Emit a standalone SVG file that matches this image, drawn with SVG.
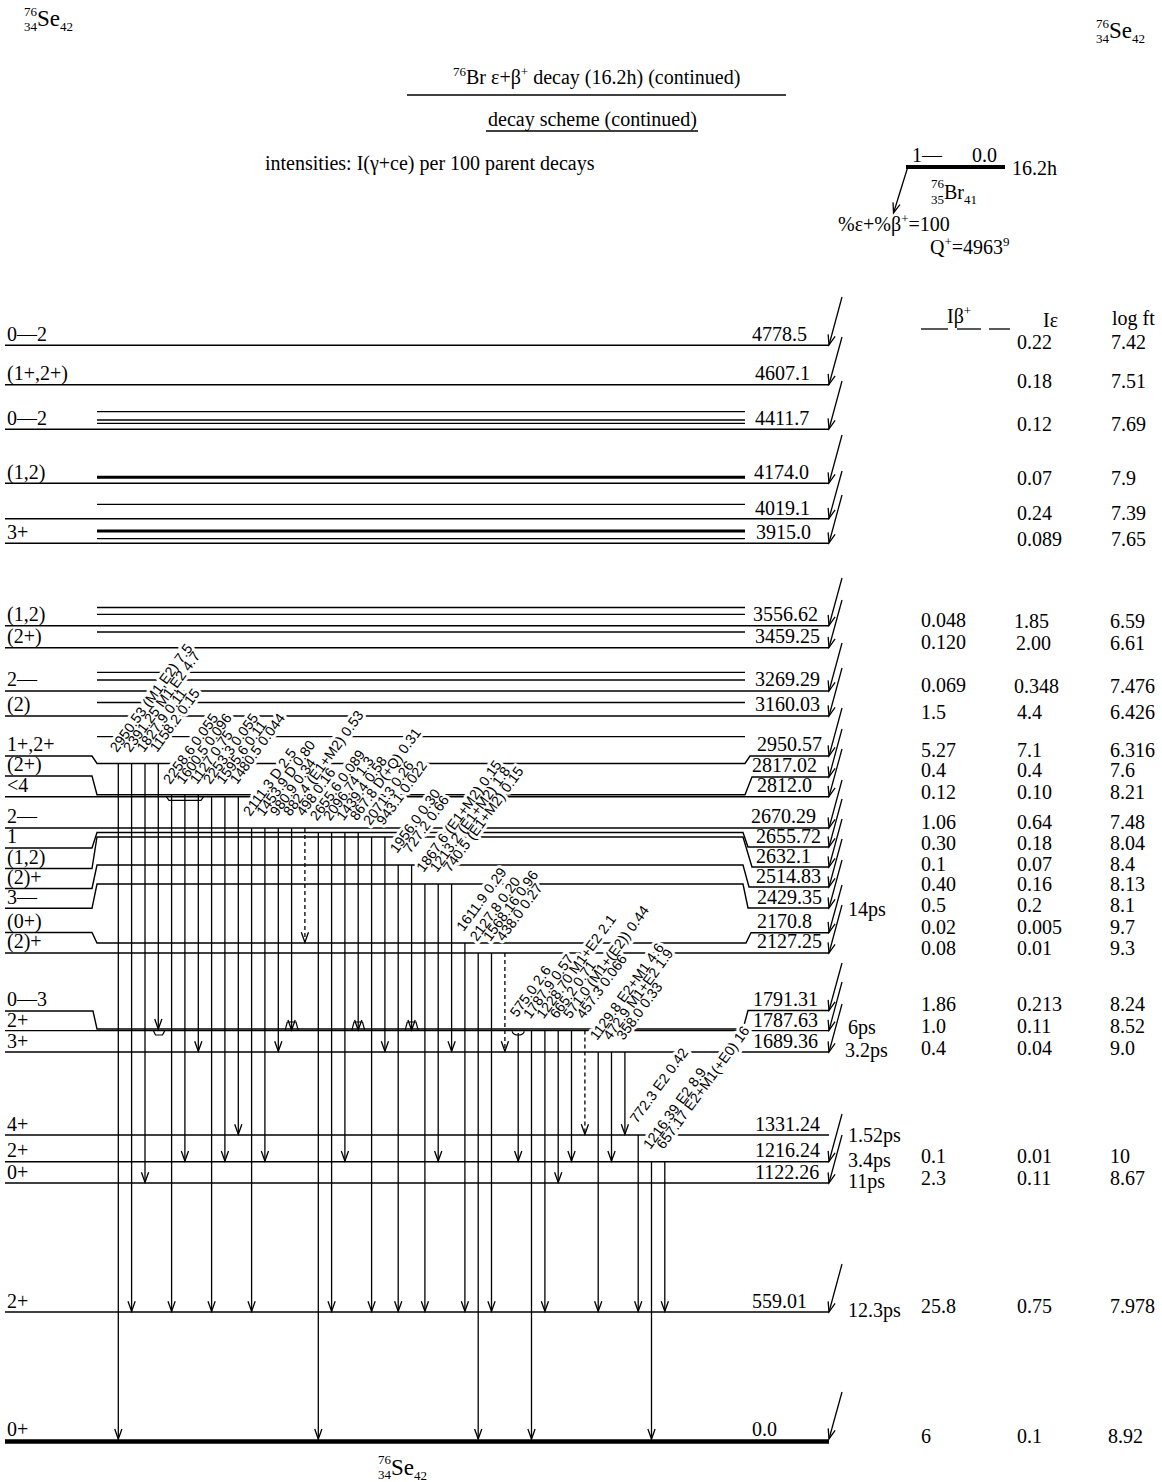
<svg xmlns="http://www.w3.org/2000/svg" xmlns:xlink="http://www.w3.org/1999/xlink" width="1162" height="1482" viewBox="0 0 1162 1482" font-family="Liberation Serif, Times New Roman, serif" font-size="20">
<style>
.lv{stroke:#000;stroke-width:1.4;fill:none}
.ex{stroke:#000;stroke-width:1.3}
.exb{stroke:#000;stroke-width:3}
.g{stroke:#000;stroke-width:1.3;fill:none;marker-end:url(#ah)}
.gd{stroke:#000;stroke-width:1.3;fill:none;stroke-dasharray:4,3;marker-end:url(#ah)}
.fd{stroke:#000;stroke-width:1.3;marker-end:url(#ah)}
.mk{stroke:#000;stroke-width:1.2;fill:none}
.sm{font-size:13px}
.halo{fill:#fff;stroke:#fff;stroke-width:6;stroke-linejoin:round}
.glf{fill:#000;stroke:none}
</style>
<defs>
<marker id="ah" markerUnits="userSpaceOnUse" markerWidth="14" markerHeight="10" viewBox="-11 -5 12 10" refX="0" refY="0" orient="auto">
<path d="M-10,-3.6 L0,0 L-10,3.6" fill="none" stroke="#000" stroke-width="1.3"/>
</marker>
<g id="glabels" font-family="Liberation Sans, Arial, sans-serif" font-size="14.2">
<text transform="translate(117,753) rotate(-54)">2950.53 (M1,E2) 7.5</text>
<text transform="translate(130.3,753) rotate(-54)">2391.25 M1,E2 4.7</text>
<text transform="translate(143.7,753) rotate(-54)">1827.9 0.11</text>
<text transform="translate(157,753) rotate(-54)">1158.2 0.15</text>
<text transform="translate(170.3,785) rotate(-54)">2258.6 0.055</text>
<text transform="translate(183.6,785) rotate(-54)">1600.5 0.096</text>
<text transform="translate(197,785) rotate(-54)">1127 0.75</text>
<text transform="translate(210.3,785) rotate(-54)">2253.3 0.055</text>
<text transform="translate(223.6,785) rotate(-54)">1595.6 0.11</text>
<text transform="translate(237,785) rotate(-54)">1480.5 0.044</text>
<text transform="translate(250.3,817) rotate(-54)">2111.3 D 2.5</text>
<text transform="translate(263.6,817) rotate(-54)">1453.9 D 0.80</text>
<text transform="translate(277,817) rotate(-54)">980.9 0.34</text>
<text transform="translate(290.3,817) rotate(-54)">882.4 (E1+M2) 0.53</text>
<text transform="translate(303.6,817) rotate(-54)">498 0.16</text>
<text transform="translate(317,821.5) rotate(-54)">2655.6 0.089</text>
<text transform="translate(330.3,821.5) rotate(-54)">2096.74 1.3</text>
<text transform="translate(343.6,821.5) rotate(-54)">1439.4 0.58</text>
<text transform="translate(356.9,821.5) rotate(-54)">867.8 D(+Q) 0.31</text>
<text transform="translate(370.3,826) rotate(-54)">2071.3 0.26</text>
<text transform="translate(383.6,826) rotate(-54)">943.1 0.022</text>
<text transform="translate(396.9,854) rotate(-54)">1956.0 0.30</text>
<text transform="translate(410.3,854) rotate(-54)">727.2 0.66</text>
<text transform="translate(423.6,873) rotate(-54)">1867.6 (E1+M2) 0.15</text>
<text transform="translate(436.9,873) rotate(-54)">1213.2 (E1+M2) 1.8</text>
<text transform="translate(450.3,873) rotate(-54)">740.5 (E1+M2) 0.15</text>
<text transform="translate(463.6,932) rotate(-54)">1611.9 0.29</text>
<text transform="translate(476.9,942) rotate(-54)">2127.8 0.20</text>
<text transform="translate(490.2,942) rotate(-54)">1568.16 0.96</text>
<text transform="translate(503.6,942) rotate(-54)">438.0 0.27</text>
<text transform="translate(516.9,1018) rotate(-54)">575.0 2.6</text>
<text transform="translate(530.2,1019.6) rotate(-54)">1787.9 0.57</text>
<text transform="translate(543.6,1019.6) rotate(-54)">1228.70 M1+E2 2.1</text>
<text transform="translate(556.9,1019.6) rotate(-54)">665.2 0.71</text>
<text transform="translate(570.2,1019.6) rotate(-54)">571.0 (M1+(E2)) 0.44</text>
<text transform="translate(583.6,1019.6) rotate(-54)">457.3 0.066</text>
<text transform="translate(596.9,1041) rotate(-54)">1129.8 E2+M1 4.6</text>
<text transform="translate(610.2,1041) rotate(-54)">472.9 M1+E2 1.9</text>
<text transform="translate(623.6,1041) rotate(-54)">358.0 0.33</text>
<text transform="translate(636.9,1124) rotate(-54)">772.3 E2 0.42</text>
<text transform="translate(650.2,1150) rotate(-54)">1216.39 E2 8.9</text>
<text transform="translate(663.5,1150) rotate(-54)">657.17 E2+M1(+E0) 16</text>
</g>
</defs>
<rect width="1162" height="1482" fill="#fff"/>

<g id="header">
<text class="sm" x="37" y="16" text-anchor="end">76</text>
<text class="sm" x="37" y="31" text-anchor="end">34</text>
<text x="37" y="26"><tspan font-size="23">Se</tspan><tspan class="sm" dy="5">42</tspan></text>
<text class="sm" x="1109" y="28" text-anchor="end">76</text>
<text class="sm" x="1109" y="43" text-anchor="end">34</text>
<text x="1109" y="38"><tspan font-size="23">Se</tspan><tspan class="sm" dy="5">42</tspan></text>
<text x="453" y="84"><tspan class="sm" dy="-8">76</tspan><tspan dy="8">Br ε+β</tspan><tspan class="sm" dy="-8">+</tspan><tspan dy="8"> decay (16.2h) (continued)</tspan></text>
<line x1="407" y1="95" x2="786" y2="95" stroke="#000" stroke-width="1.4"/>
<text x="488" y="126">decay scheme (continued)</text>
<line x1="486" y1="131" x2="698" y2="131" stroke="#000" stroke-width="1.4"/>
<text x="265" y="170">intensities: I(γ+ce) per 100 parent decays</text>
<text x="947" y="323">Iβ<tspan class="sm" dy="-8">+</tspan></text>
<line x1="921" y1="329" x2="948" y2="329" stroke="#000" stroke-width="1.3"/>
<line x1="957" y1="329" x2="981" y2="329" stroke="#000" stroke-width="1.3"/>
<line x1="989" y1="329" x2="1010" y2="329" stroke="#000" stroke-width="1.3"/>
<text x="1043" y="327">Iε</text>
<text x="1112" y="325">log ft</text>
</g>

<g id="parent">
<text x="912" y="162">1—</text>
<text x="972" y="162">0.0</text>
<line x1="906" y1="167" x2="1005" y2="167" stroke="#000" stroke-width="4"/>
<text x="1012" y="175">16.2h</text>
<text class="sm" x="944" y="188" text-anchor="end">76</text>
<text class="sm" x="944" y="204" text-anchor="end">35</text>
<text x="944" y="199">Br<tspan class="sm" dy="5">41</tspan></text>
<line class="fd" x1="907.5" y1="168" x2="893.5" y2="213"/>
<text x="838" y="231">%ε+%β<tspan class="sm" dy="-8">+</tspan><tspan dy="8">=100</tspan></text>
<text x="930" y="254">Q<tspan class="sm" dy="-8">+</tspan><tspan dy="8">=4963</tspan><tspan class="sm" dy="-8">9</tspan></text>
</g>

<g id="ex-lines">
<line class="ex" x1="97" y1="411.7" x2="745" y2="411.7"/>
<line class="ex" x1="97" y1="420" x2="745" y2="420"/>
<line class="ex" x1="97" y1="423.4" x2="745" y2="423.4"/>
<line class="exb" x1="97" y1="477.3" x2="745" y2="477.3"/>
<line class="ex" x1="97" y1="504.3" x2="745" y2="504.3"/>
<line class="exb" x1="97" y1="531" x2="745" y2="531"/>
<line class="ex" x1="97" y1="538.6" x2="745" y2="538.6"/>
<line class="ex" x1="97" y1="607.5" x2="745" y2="607.5"/>
<line class="ex" x1="97" y1="614.3" x2="745" y2="614.3"/>
<line class="ex" x1="97" y1="632" x2="745" y2="632"/>
<line class="ex" x1="97" y1="672.3" x2="745" y2="672.3"/>
<line class="ex" x1="97" y1="680" x2="745" y2="680"/>
<line class="ex" x1="97" y1="702.5" x2="745" y2="702.5"/>
<line class="ex" x1="97" y1="736.7" x2="745" y2="736.7"/>
</g>

<g id="lv-4778.5"><line class="lv" x1="5" y1="345.3" x2="829" y2="345.3"/><text x="7" y="341">0—2</text><text x="752" y="341">4778.5</text><line class="fd" x1="842" y1="297" x2="829" y2="345"/><text x="1017" y="349">0.22</text><text x="1111" y="349">7.42</text></g>
<g id="lv-4607.1"><line class="lv" x1="5" y1="384.7" x2="829" y2="384.7"/><text x="7" y="380">(1+,2+)</text><text x="755" y="380">4607.1</text><line class="fd" x1="842" y1="337" x2="829" y2="384.5"/><text x="1017" y="388">0.18</text><text x="1111" y="388">7.51</text></g>
<g id="lv-4411.7"><line class="lv" x1="5" y1="429.3" x2="829" y2="429.3"/><text x="7" y="425">0—2</text><text x="755" y="425">4411.7</text><line class="fd" x1="842" y1="381" x2="829" y2="429"/><text x="1017" y="431">0.12</text><text x="1111" y="431">7.69</text></g>
<g id="lv-4174.0"><line class="lv" x1="5" y1="483.3" x2="829" y2="483.3"/><text x="7" y="479">(1,2)</text><text x="754" y="479">4174.0</text><line class="fd" x1="842" y1="435" x2="829" y2="483"/><text x="1017" y="485">0.07</text><text x="1111" y="485">7.9</text></g>
<g id="lv-4019.1"><line class="lv" x1="5" y1="518.7" x2="829" y2="518.7"/><text x="755" y="515">4019.1</text><line class="fd" x1="842" y1="471" x2="829" y2="518.5"/><text x="1017" y="520">0.24</text><text x="1111" y="520">7.39</text></g>
<g id="lv-3915.0"><line class="lv" x1="5" y1="543.3" x2="829" y2="543.3"/><text x="7" y="539">3+</text><text x="756" y="539">3915.0</text><line class="fd" x1="842" y1="495" x2="829" y2="543"/><text x="1017" y="546">0.089</text><text x="1111" y="546">7.65</text></g>
<g id="lv-3556.62"><line class="lv" x1="5" y1="625.7" x2="829" y2="625.7"/><text x="7" y="621">(1,2)</text><text x="753" y="621">3556.62</text><line class="fd" x1="842" y1="578" x2="829" y2="625.5"/><text x="921" y="627">0.048</text><text x="1014" y="628">1.85</text><text x="1110" y="628">6.59</text></g>
<g id="lv-3459.25"><line class="lv" x1="5" y1="647.7" x2="829" y2="647.7"/><text x="7" y="643">(2+)</text><text x="755" y="643">3459.25</text><line class="fd" x1="842" y1="600" x2="829" y2="647.5"/><text x="921" y="649">0.120</text><text x="1016" y="650">2.00</text><text x="1110" y="650">6.61</text></g>
<g id="lv-3269.29"><line class="lv" x1="5" y1="691" x2="829" y2="691"/><text x="7" y="686">2—</text><text x="755" y="686">3269.29</text><line class="fd" x1="842" y1="643" x2="829" y2="691"/><text x="921" y="692">0.069</text><text x="1014" y="693">0.348</text><text x="1110" y="693">7.476</text></g>
<g id="lv-3160.03"><line class="lv" x1="5" y1="716" x2="829" y2="716"/><text x="7" y="711">(2)</text><text x="755" y="711">3160.03</text><line class="fd" x1="842" y1="668" x2="829" y2="716"/><text x="921" y="719">1.5</text><text x="1017" y="719">4.4</text><text x="1110" y="719">6.426</text></g>
<g id="lv-2950.57"><path class="lv" d="M5,756 L92,756 L97,763.5 L745,763.5 L750,756 L829,756"/><text x="7" y="751">1+,2+</text><text x="757" y="751">2950.57</text><line class="fd" x1="842" y1="708" x2="829" y2="756"/><text x="921" y="757">5.27</text><text x="1017" y="757">7.1</text><text x="1110" y="757">6.316</text></g>
<g id="lv-2817.02"><path class="lv" d="M5,776 L92,776 L97,794.8 L745,794.8 L752,777 L829,777"/><text x="7" y="771">(2+)</text><text x="752" y="772">2817.02</text><line class="fd" x1="842" y1="729" x2="829" y2="777"/><text x="921" y="777">0.4</text><text x="1017" y="777">0.4</text><text x="1110" y="777">7.6</text></g>
<g id="lv-2812.0"><line class="lv" x1="5" y1="796.8" x2="829" y2="796.8"/><text x="7" y="792">&lt;4</text><text x="757" y="792">2812.0</text><line class="fd" x1="842" y1="749" x2="829" y2="796.5"/><text x="921" y="799">0.12</text><text x="1017" y="799">0.10</text><text x="1110" y="799">8.21</text></g>
<g id="lv-2670.29"><line class="lv" x1="5" y1="828" x2="829" y2="828"/><text x="7" y="823">2—</text><text x="751" y="823">2670.29</text><line class="fd" x1="842" y1="780" x2="829" y2="828"/><text x="921" y="829">1.06</text><text x="1017" y="829">0.64</text><text x="1110" y="829">7.48</text></g>
<g id="lv-2655.72"><path class="lv" d="M5,848 L92,848 L97,832.5 L743,832.5 L748,847 L829,847"/><text x="7" y="843">1</text><text x="756" y="843">2655.72</text><line class="fd" x1="842" y1="799" x2="829" y2="847"/><text x="921" y="850">0.30</text><text x="1017" y="850">0.18</text><text x="1110" y="850">8.04</text></g>
<g id="lv-2632.1"><path class="lv" d="M5,868.5 L92,868.5 L97,837 L743,837 L752,867 L829,867"/><text x="7" y="864">(1,2)</text><text x="756" y="863">2632.1</text><line class="fd" x1="842" y1="819" x2="829" y2="867"/><text x="921" y="870.5">0.1</text><text x="1017" y="870.5">0.07</text><text x="1110" y="870.5">8.4</text></g>
<g id="lv-2514.83"><path class="lv" d="M5,888.5 L92,888.5 L97,865 L743,865 L749,887 L829,887"/><text x="7" y="884">(2)+</text><text x="756" y="883">2514.83</text><line class="fd" x1="842" y1="839" x2="829" y2="887"/><text x="921" y="891">0.40</text><text x="1017" y="891">0.16</text><text x="1110" y="891">8.13</text></g>
<g id="lv-2429.35"><path class="lv" d="M5,908.3 L92,908.3 L97,884 L743,884 L748,908 L829,908"/><text x="7" y="904">3—</text><text x="757" y="904">2429.35</text><line class="fd" x1="842" y1="860" x2="829" y2="908"/><text x="848" y="916">14ps</text><text x="921" y="912">0.5</text><text x="1017" y="912">0.2</text><text x="1110" y="912">8.1</text></g>
<g id="lv-2170.8"><path class="lv" d="M5,932.5 L92,932.5 L97,943 L746,943 L751,932.7 L829,932.7"/><text x="7" y="928">(0+)</text><text x="757" y="928">2170.8</text><line class="fd" x1="842" y1="885" x2="829" y2="932.5"/><text x="921" y="934">0.02</text><text x="1017" y="934">0.005</text><text x="1110" y="934">9.7</text></g>
<g id="lv-2127.25"><line class="lv" x1="5" y1="953" x2="829" y2="953"/><text x="7" y="948">(2)+</text><text x="757" y="948">2127.25</text><line class="fd" x1="842" y1="905" x2="829" y2="953"/><text x="921" y="955">0.08</text><text x="1017" y="955">0.01</text><text x="1110" y="955">9.3</text></g>
<g id="lv-1791.31"><path class="lv" d="M5,1011 L93,1011 L97,1029 L743,1029 L748,1010.5 L829,1010.5"/><text x="7" y="1006">0—3</text><text x="753" y="1006">1791.31</text><line class="fd" x1="842" y1="963" x2="829" y2="1010.5"/><text x="921" y="1011">1.86</text><text x="1017" y="1011">0.213</text><text x="1110" y="1011">8.24</text></g>
<g id="lv-1787.63"><line class="lv" x1="5" y1="1030.6" x2="829" y2="1030.6"/><text x="7" y="1027">2+</text><text x="753" y="1027">1787.63</text><line class="fd" x1="842" y1="982" x2="829" y2="1030.3"/><text x="848" y="1034">6ps</text><text x="921" y="1033">1.0</text><text x="1017" y="1033">0.11</text><text x="1110" y="1033">8.52</text></g>
<g id="lv-1689.36"><line class="lv" x1="5" y1="1052" x2="829" y2="1052"/><text x="7" y="1048">3+</text><text x="753" y="1048">1689.36</text><line class="fd" x1="842" y1="1004" x2="829" y2="1052"/><text x="845" y="1057">3.2ps</text><text x="921" y="1055">0.4</text><text x="1017" y="1055">0.04</text><text x="1110" y="1055">9.0</text></g>
<g id="lv-1331.24"><line class="lv" x1="5" y1="1135" x2="829" y2="1135"/><text x="7" y="1131">4+</text><text x="755" y="1131">1331.24</text><text x="848" y="1142">1.52ps</text></g>
<g id="lv-1216.24"><line class="lv" x1="5" y1="1161.7" x2="829" y2="1161.7"/><text x="7" y="1157">2+</text><text x="755" y="1157">1216.24</text><line class="fd" x1="842" y1="1114" x2="829" y2="1161.5"/><text x="848" y="1167">3.4ps</text><text x="921" y="1163">0.1</text><text x="1017" y="1163">0.01</text><text x="1110" y="1163">10</text></g>
<g id="lv-1122.26"><line class="lv" x1="5" y1="1183" x2="829" y2="1183"/><text x="7" y="1179">0+</text><text x="755" y="1179">1122.26</text><line class="fd" x1="842" y1="1135" x2="829" y2="1183"/><text x="848" y="1188">11ps</text><text x="921" y="1185">2.3</text><text x="1017" y="1185">0.11</text><text x="1110" y="1185">8.67</text></g>
<g id="lv-559.01"><line class="lv" x1="5" y1="1312" x2="829" y2="1312"/><text x="7" y="1308">2+</text><text x="752" y="1308">559.01</text><line class="fd" x1="842" y1="1264" x2="829" y2="1312"/><text x="848" y="1317">12.3ps</text><text x="921" y="1313">25.8</text><text x="1017" y="1313">0.75</text><text x="1110" y="1313">7.978</text></g>
<g id="lv-0.0"><line x1="5" y1="1441.5" x2="829" y2="1441.5" stroke="#000" stroke-width="4.5"/><text x="7" y="1436">0+</text><text x="752" y="1436">0.0</text><line class="fd" x1="842" y1="1392" x2="829" y2="1439"/><text x="921" y="1443">6</text><text x="1017" y="1443">0.1</text><text x="1108" y="1443">8.92</text></g>

<g id="daughter">
<text class="sm" x="391" y="1464" text-anchor="end">76</text>
<text class="sm" x="391" y="1479" text-anchor="end">34</text>
<text x="391" y="1475"><tspan font-size="23">Se</tspan><tspan class="sm" dy="5">42</tspan></text>
</g>

<g id="connectors">
<use xlink:href="#glabels" class="halo"/>
<use xlink:href="#glabels" class="glf"/>
<line class="g" x1="118.3" y1="763.5" x2="118.3" y2="1439"/>
<line class="g" x1="131.6" y1="763.5" x2="131.6" y2="1311.3"/>
<line class="g" x1="145" y1="763.5" x2="145" y2="1182.3"/>
<line class="g" x1="158.3" y1="763.5" x2="158.3" y2="1029"/>
<line class="g" x1="171.6" y1="795" x2="171.6" y2="1311.3"/>
<line class="g" x1="184.9" y1="795" x2="184.9" y2="1161"/>
<line class="g" x1="198.3" y1="795" x2="198.3" y2="1051.3"/>
<line class="g" x1="211.6" y1="796.8" x2="211.6" y2="1311.3"/>
<line class="g" x1="224.9" y1="796.8" x2="224.9" y2="1161"/>
<line class="g" x1="238.3" y1="796.8" x2="238.3" y2="1134.3"/>
<line class="g" x1="251.6" y1="828" x2="251.6" y2="1311.3"/>
<line class="g" x1="264.9" y1="828" x2="264.9" y2="1161"/>
<line class="g" x1="278.3" y1="828" x2="278.3" y2="1051.3"/>
<line class="g" x1="291.6" y1="828" x2="291.6" y2="1030"/>
<line class="gd" x1="304.9" y1="828" x2="304.9" y2="942.3"/>
<line class="g" x1="318.3" y1="832.5" x2="318.3" y2="1439"/>
<line class="g" x1="331.6" y1="832.5" x2="331.6" y2="1311.3"/>
<line class="g" x1="344.9" y1="832.5" x2="344.9" y2="1161"/>
<line class="g" x1="358.2" y1="832.5" x2="358.2" y2="1030"/>
<line class="g" x1="371.6" y1="837" x2="371.6" y2="1311.3"/>
<line class="g" x1="384.9" y1="837" x2="384.9" y2="1051.3"/>
<line class="g" x1="398.2" y1="865" x2="398.2" y2="1311.3"/>
<line class="g" x1="411.6" y1="865" x2="411.6" y2="1030"/>
<line class="g" x1="424.9" y1="884" x2="424.9" y2="1311.3"/>
<line class="g" x1="438.2" y1="884" x2="438.2" y2="1161"/>
<line class="g" x1="451.6" y1="884" x2="451.6" y2="1051.3"/>
<line class="g" x1="464.9" y1="943" x2="464.9" y2="1311.3"/>
<line class="g" x1="478.2" y1="953" x2="478.2" y2="1439"/>
<line class="g" x1="491.5" y1="953" x2="491.5" y2="1311.3"/>
<line class="gd" x1="504.9" y1="953" x2="504.9" y2="1051.3"/>
<line class="g" x1="518.2" y1="1033" x2="518.2" y2="1161"/>
<line class="g" x1="531.5" y1="1030.6" x2="531.5" y2="1439"/>
<line class="g" x1="544.9" y1="1030.6" x2="544.9" y2="1311.3"/>
<line class="g" x1="558.2" y1="1030.6" x2="558.2" y2="1182.3"/>
<line class="g" x1="571.5" y1="1030.6" x2="571.5" y2="1161"/>
<line class="gd" x1="584.9" y1="1030.6" x2="584.9" y2="1134.3"/>
<line class="g" x1="598.2" y1="1052" x2="598.2" y2="1311.3"/>
<line class="g" x1="611.5" y1="1052" x2="611.5" y2="1161"/>
<line class="g" x1="624.9" y1="1052" x2="624.9" y2="1134.3"/>
<line class="g" x1="638.2" y1="1135" x2="638.2" y2="1311.3"/>
<line class="g" x1="651.5" y1="1161.7" x2="651.5" y2="1439"/>
<line class="g" x1="664.8" y1="1161.7" x2="664.8" y2="1311.3"/>
<path class="mk" d="M153.3,1030.6 L155.5,1035 L162.5,1035 L164.8,1030.6"/>
<path class="mk" d="M166.5,796.8 L169,800.3 L201,800.3 L203.5,796.8"/>
<path class="mk" d="M285,1030.6 L287.3,1022 L296,1022 L298.3,1030.6"/>
<path class="mk" d="M351.7,1030.6 L354,1022 L362.5,1022 L364.8,1030.6"/>
<path class="mk" d="M405,1030.6 L407.3,1022 L416,1022 L418.3,1030.6"/>
<path class="mk" d="M512.2,1031.2 A6,3.8 0 0 0 524.2,1031.2"/>
</g>
</svg>
